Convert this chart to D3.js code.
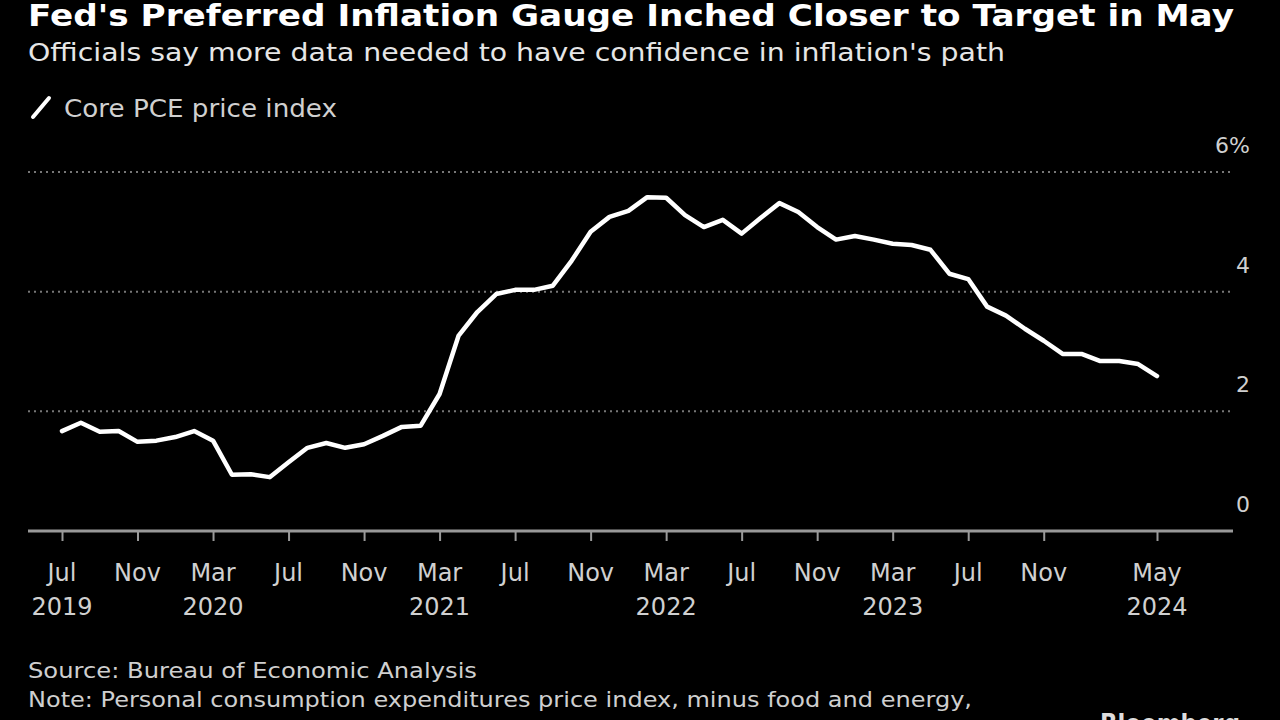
<!DOCTYPE html>
<html>
<head>
<meta charset="utf-8">
<script src="https://cdn.jsdelivr.net/npm/d3@7"></script>
<style>
  html, body { margin: 0; padding: 0; background: #000; }
  svg { display: block; }
  text { font-family: "DejaVu Sans", sans-serif; }
</style>
</head>
<body>
<svg id="chart" width="1280" height="720"></svg>
<script>
// ---- data ----
const months = [
  "2019-07","2019-08","2019-09","2019-10","2019-11","2019-12",
  "2020-01","2020-02","2020-03","2020-04","2020-05","2020-06","2020-07","2020-08","2020-09","2020-10","2020-11","2020-12",
  "2021-01","2021-02","2021-03","2021-04","2021-05","2021-06","2021-07","2021-08","2021-09","2021-10","2021-11","2021-12",
  "2022-01","2022-02","2022-03","2022-04","2022-05","2022-06","2022-07","2022-08","2022-09","2022-10","2022-11","2022-12",
  "2023-01","2023-02","2023-03","2023-04","2023-05","2023-06","2023-07","2023-08","2023-09","2023-10","2023-11","2023-12",
  "2024-01","2024-02","2024-03","2024-04","2024-05"
];
const corePCE = [
  1.67,1.81,1.66,1.67,1.49,1.51,
  1.57,1.67,1.51,0.94,0.95,0.90,1.15,1.39,1.47,1.39,1.45,1.59,
  1.74,1.76,2.29,3.26,3.66,3.96,4.03,4.03,4.10,4.52,5.00,5.25,
  5.35,5.58,5.57,5.28,5.08,5.20,4.97,5.23,5.48,5.33,5.08,4.87,
  4.93,4.87,4.80,4.78,4.70,4.30,4.21,3.75,3.60,3.38,3.18,2.96,
  2.96,2.84,2.84,2.79,2.59
];
const xTickIndex = [0,4,8,12,16,20,24,28,32,36,40,44,48,52,58];
const xTickMonth = ["Jul","Nov","Mar","Jul","Nov","Mar","Jul","Nov","Mar","Jul","Nov","Mar","Jul","Nov","May"];
const xTickYear  = ["2019","","2020","","","2021","","","2022","","","2023","","","2024"];
const yTicks = [0,2,4,6];
const yTickLabels = ["0","2","4","6%"];

const title = "Fed's Preferred Inflation Gauge Inched Closer to Target in May";
const subtitle = "Officials say more data needed to have confidence in inflation's path";
const legendLabel = "Core PCE price index";
const footer = [
  "Source: Bureau of Economic Analysis",
  "Note: Personal consumption expenditures price index, minus food and energy,",
  "year-over-year change"
];

// ---- layout ----
const svg = d3.select("#chart");
svg.append("rect").attr("width",1280).attr("height",720).attr("fill","#000");

const x = d3.scaleLinear().domain([0, months.length - 1]).range([62, 1157]);
const y = d3.scaleLinear().domain([0, 6]).range([531, 172]);
const plotLeft = 28, plotRight = 1233;

// titles
svg.append("text").attr("x",28).attr("y",26)
  .attr("fill","#fff").attr("font-weight","bold").attr("font-size",31)
  .attr("textLength",1206).attr("lengthAdjust","spacingAndGlyphs")
  .text(title);
svg.append("text").attr("x",28).attr("y",61)
  .attr("fill","#e6e6e6").attr("font-size",25)
  .attr("textLength",977).attr("lengthAdjust","spacingAndGlyphs")
  .text(subtitle);

// legend
svg.append("line").attr("x1",33).attr("y1",117).attr("x2",49).attr("y2",98)
  .attr("stroke","#fff").attr("stroke-width",4).attr("stroke-linecap","round");
svg.append("text").attr("x",64).attr("y",117)
  .attr("fill","#d0d0d0").attr("font-size",24)
  .attr("textLength",273).attr("lengthAdjust","spacingAndGlyphs")
  .text(legendLabel);

// gridlines
const grid = svg.append("g");
grid.selectAll("line").data(yTicks.filter(d => d > 0)).join("line")
  .attr("x1",plotLeft).attr("x2",plotRight)
  .attr("y1",d => y(d)).attr("y2",d => y(d))
  .attr("stroke","#777").attr("stroke-width",2).attr("stroke-dasharray","2,4");

// y labels
svg.append("g").selectAll("text").data(yTicks).join("text")
  .attr("x",1250).attr("y",d => y(d) - 19)
  .attr("text-anchor","end").attr("fill","#cfcfcf").attr("font-size",22)
  .text((d,i) => yTickLabels[i]);

// x axis
const xAxis = d3.axisBottom(x).tickValues(xTickIndex).tickSize(10).tickFormat("");
const gx = svg.append("g").attr("transform",`translate(0,${y(0)})`).call(xAxis);
gx.select(".domain").remove();
gx.selectAll(".tick line").attr("stroke","#999").attr("stroke-width",2);
svg.append("line").attr("x1",plotLeft).attr("x2",plotRight)
  .attr("y1",y(0)).attr("y2",y(0)).attr("stroke","#999").attr("stroke-width",3);

const xl = svg.append("g");
xl.selectAll("text.m").data(xTickIndex).join("text").attr("class","m")
  .attr("x",d => x(d)).attr("y",581).attr("text-anchor","middle")
  .attr("fill","#d0d0d0").attr("font-size",24)
  .text((d,i) => xTickMonth[i]);
xl.selectAll("text.yr").data(xTickIndex).join("text").attr("class","yr")
  .attr("x",d => x(d)).attr("y",615).attr("text-anchor","middle")
  .attr("fill","#d0d0d0").attr("font-size",24)
  .text((d,i) => xTickYear[i]);

// line
const line = d3.line().x((d,i) => x(i)).y(d => y(d));
svg.append("path").datum(corePCE).attr("d",line)
  .attr("fill","none").attr("stroke","#fff").attr("stroke-width",4.5)
  .attr("stroke-linejoin","round").attr("stroke-linecap","round");

// footer
const fw = [449, 944, 260];
svg.append("g").selectAll("text").data(footer).join("text")
  .attr("x",28).attr("y",(d,i) => 678 + i*29)
  .attr("fill","#cfcfcf").attr("font-size",22)
  .attr("textLength",(d,i) => fw[i]).attr("lengthAdjust","spacingAndGlyphs")
  .text(d => d);
svg.append("text").attr("x",1100).attr("y",733)
  .attr("fill","#ddd").attr("font-weight","bold").attr("font-size",27)
  .attr("textLength",140).attr("lengthAdjust","spacingAndGlyphs")
  .text("Bloomberg");
</script>
</body>
</html>
